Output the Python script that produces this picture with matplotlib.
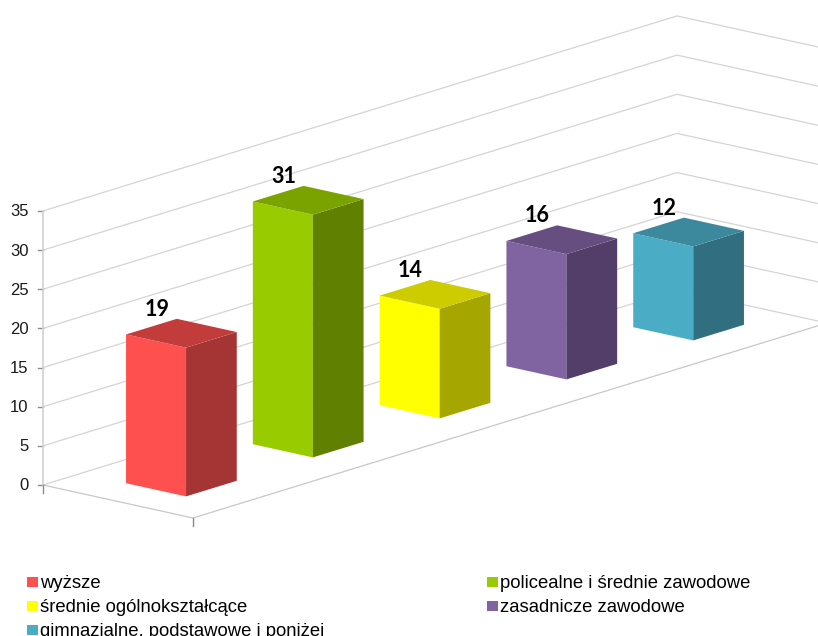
import matplotlib
matplotlib.use("Agg")
import matplotlib.pyplot as plt

categories = ["wyższe", "policealne i średnie zawodowe", "średnie ogólnokształcące",
              "zasadnicze zawodowe", "gimnazjalne, podstawowe i poniżej"]
values = [19, 31, 14, 16, 12]
y_ticks = [0, 5, 10, 15, 20, 25, 30, 35]

front_colors = ["#FF5050", "#99CC00", "#FFFF00", "#8064A2", "#4BACC6"]
side_colors = ["#A53434", "#5F8000", "#A6A600", "#533E6A", "#316F80"]
top_colors = ["#C23C3C", "#7AA300", "#CCCC00", "#664F80", "#3C899E"]

# pixel layout of the oblique projection
ORIGIN = (43, 485)
CAT_STEP = (126.8, -39)
DEPTH_STEP = (150, 33)
UNIT = 7.83


def project(u, w, v):
    x = ORIGIN[0] + u * CAT_STEP[0] + w * DEPTH_STEP[0]
    y = ORIGIN[1] + u * CAT_STEP[1] + w * DEPTH_STEP[1] - v * UNIT
    return x, y


def face(ax, corners, color):
    pts = [project(*c) for c in corners]
    ax.fill([p[0] for p in pts], [p[1] for p in pts], color=color, lw=0, zorder=3)


fig = plt.figure(figsize=(8.18, 6.36), dpi=100)
ax = fig.add_axes([0, 0, 1, 1])
ax.set_xlim(0, 818)
ax.set_ylim(636, 0)
ax.axis("off")

n = len(values)

# walls
for t in y_ticks:
    a = project(0, 0, t)
    b = project(n, 0, t)
    c = project(n, 1, t)
    ax.plot([a[0], b[0], c[0]], [a[1], b[1], c[1]], color="#D4D4D4", lw=0.9, zorder=1)
    ax.plot([a[0] - 5, a[0]], [a[1], a[1]], color="#8C8C8C", lw=1, zorder=2)
    ax.text(a[0] - 14.5, a[1] + 1, str(t), ha="right", va="center", fontsize=12,
            family="Liberation Sans", color="#1A1A1A")

# floor and axes
p0 = project(0, 0, 0)
p1 = project(0, 1, 0)
p2 = project(n, 1, 0)
p3 = project(0, 0, max(y_ticks))
ax.plot([p0[0], p1[0], p2[0]], [p0[1], p1[1], p2[1]], color="#C8C8C8", lw=0.9, zorder=1)
ax.plot([p3[0], p0[0]], [p3[1], p0[1]], color="#D2D2D2", lw=1.2, zorder=2)
ax.plot([p0[0], p0[0]], [p0[1], p0[1] + 8], color="#8C8C8C", lw=1, zorder=2)
ax.plot([p1[0], p1[0]], [p1[1], p1[1] + 8], color="#8C8C8C", lw=1, zorder=2)

# bars
for i, v in enumerate(values):
    u0, u1 = i + 0.3, i + 0.7
    w0, w1 = 0.3, 0.7
    face(ax, [(u0, w0, 0), (u0, w1, 0), (u0, w1, v), (u0, w0, v)], front_colors[i])
    face(ax, [(u0, w1, 0), (u1, w1, 0), (u1, w1, v), (u0, w1, v)], side_colors[i])
    face(ax, [(u0, w1, v), (u1, w1, v), (u1, w0, v), (u0, w0, v)], top_colors[i])
    cx, cy = project(i + 0.5, 0.5, v)
    ax.text(cx - 24.5, cy - 24, str(v), ha="center", va="center", fontsize=15.5,
            fontweight="bold", family="Lato", color="black", zorder=4)

# legend
legend_x = [27, 487, 27, 487, 27]
legend_y = [582, 582, 606, 606, 630]
for name, col, lx, ly in zip(categories, front_colors, legend_x, legend_y):
    ax.fill([lx, lx + 11, lx + 11, lx], [ly - 5, ly - 5, ly + 5, ly + 5], color=col, lw=0)
    ax.text(lx + 13.5, ly + 1.5, name, ha="left", va="center", fontsize=13.3,
            family="Liberation Sans", color="black")

fig.savefig("out.png", dpi=100)
